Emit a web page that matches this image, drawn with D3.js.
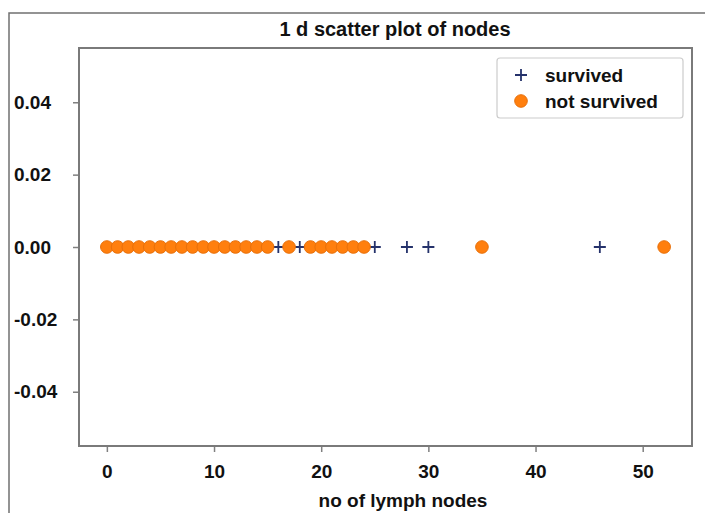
<!DOCTYPE html>
<html>
<head>
<meta charset="utf-8">
<script src="https://cdn.jsdelivr.net/npm/d3@7"></script>
<style>
  body { margin: 0; background: #fff; }
  svg text { font-family: "Liberation Sans", Arial, sans-serif; font-weight: bold; fill: #111; }
</style>
</head>
<body>
<svg id="chart" width="705" height="513"></svg>
<script>
// lymph node counts
const survivedNodes = [0, 1, 2, 3, 4, 5, 6, 7, 8, 9, 10, 11, 13, 14, 15, 16, 18, 19, 20, 22, 23, 25, 28, 30, 46];
const notSurvivedNodes = [0, 1, 2, 3, 4, 5, 6, 7, 8, 9, 10, 11, 12, 13, 14, 15, 17, 19, 20, 21, 22, 23, 24, 35, 52];
const xTicks = [0, 10, 20, 30, 40, 50];
const yTicks = [0.04, 0.02, 0.00, -0.02, -0.04];
const legendLabels = ["survived", "not survived"];

const width = 705, height = 513;
const plot = { x: 79, y: 48, w: 613, h: 398 };
const svg = d3.select("#chart");

// outer frame (cut off at right / bottom)
svg.append("path")
  .attr("d", `M9,${height + 5}V13H${width + 5}`)
  .attr("fill", "none")
  .attr("stroke", "#707070")
  .attr("stroke-width", 1.5);

const x = d3.scaleLinear().domain([-2.6, 54.6]).range([plot.x, plot.x + plot.w]);
const y = d3.scaleLinear().domain([-0.055, 0.055]).range([plot.y + plot.h, plot.y]);

// x axis
const xAxis = svg.append("g")
  .attr("transform", `translate(0,${plot.y + plot.h})`)
  .call(d3.axisBottom(x).tickValues(xTicks).tickSize(6).tickPadding(13).tickFormat(d3.format("d")));
xAxis.select(".domain").remove();
xAxis.selectAll("line").attr("stroke", "#808080").attr("stroke-width", 1.5);
xAxis.selectAll("text").attr("font-size", 19).attr("fill", "#111")
  .attr("font-family", "Liberation Sans, Arial, sans-serif").attr("font-weight", "bold");

// y axis
const yAxis = svg.append("g")
  .attr("transform", `translate(${plot.x},0)`)
  .call(d3.axisLeft(y).tickValues(yTicks).tickSize(6).tickFormat(d3.format(".2f")));
yAxis.select(".domain").remove();
yAxis.selectAll("line").attr("stroke", "#808080").attr("stroke-width", 1.5);
yAxis.selectAll("text")
  .attr("text-anchor", "start")
  .attr("x", 14 - plot.x)
  .attr("font-size", 19).attr("fill", "#111")
  .attr("font-family", "Liberation Sans, Arial, sans-serif").attr("font-weight", "bold")
  .text(d => d3.format(".2f")(d).replace("−", "-"));

// plot frame
svg.append("rect")
  .attr("x", plot.x).attr("y", plot.y)
  .attr("width", plot.w).attr("height", plot.h)
  .attr("fill", "none")
  .attr("stroke", "#7a7a7a")
  .attr("stroke-width", 2);

// survived markers (plus), drawn first
const plusPath = "M-6,0H6M0,-6V6";
svg.append("g").selectAll("path")
  .data(survivedNodes)
  .join("path")
    .attr("transform", d => `translate(${x(d)},${y(0)})`)
    .attr("d", plusPath)
    .attr("stroke", "#25326b")
    .attr("stroke-width", 1.8);

// not survived markers (circles) on top
svg.append("g").selectAll("circle")
  .data(notSurvivedNodes)
  .join("circle")
    .attr("cx", d => x(d))
    .attr("cy", y(0))
    .attr("r", 6.3)
    .attr("fill", "#ff7f0e")
    .attr("stroke", "#e8700a")
    .attr("stroke-width", 1);

// title and x label
svg.append("text")
  .attr("x", 395).attr("y", 36)
  .attr("text-anchor", "middle")
  .attr("font-size", 20)
  .text("1 d scatter plot of nodes");

svg.append("text")
  .attr("x", 403).attr("y", 507)
  .attr("text-anchor", "middle")
  .attr("font-size", 19)
  .text("no of lymph nodes");

// legend
const leg = svg.append("g");
leg.append("rect")
  .attr("x", 497).attr("y", 58)
  .attr("width", 186).attr("height", 60)
  .attr("rx", 3)
  .attr("fill", "#fff")
  .attr("stroke", "#cccccc")
  .attr("stroke-width", 1.2);

leg.append("path")
  .attr("transform", "translate(521,75)")
  .attr("d", plusPath)
  .attr("stroke", "#25326b")
  .attr("stroke-width", 1.8);
leg.append("circle")
  .attr("cx", 521).attr("cy", 101).attr("r", 6.3)
  .attr("fill", "#ff7f0e").attr("stroke", "#e8700a");

leg.selectAll("text.lbl")
  .data(legendLabels)
  .join("text")
    .attr("class", "lbl")
    .attr("x", 545)
    .attr("y", (d, i) => 82 + i * 26)
    .attr("font-size", 19)
    .text(d => d);
</script>
</body>
</html>
